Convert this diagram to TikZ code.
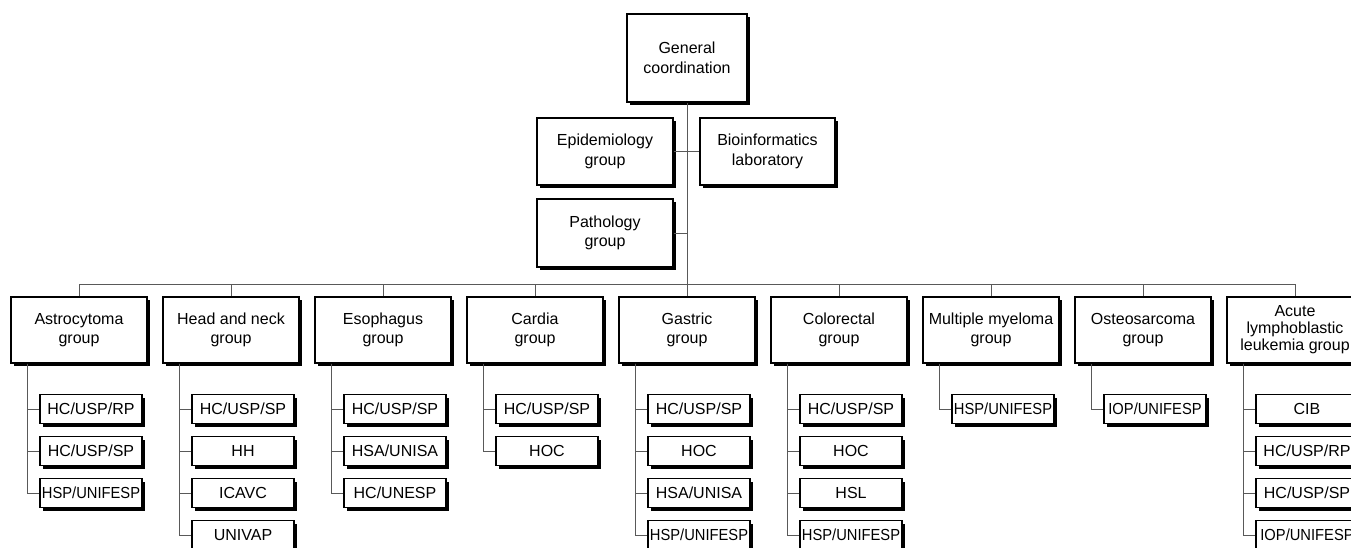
\documentclass[tikz,border=0pt]{standalone}
\usepackage{fontspec}
\setmainfont{Liberation Sans}
\newfontfamily\narrowsans[FakeStretch=0.92]{Liberation Sans}
\usetikzlibrary{shadows}
\tikzset{
    unit/.style={draw, line width=1.4pt, fill=white, inner sep=0pt, align=center,
        font=\fontsize{16}{19.5}\selectfont,
        drop shadow={shadow xshift=3pt, shadow yshift=-3pt, fill=black, opacity=1}},
    groupbox/.style={unit, minimum width=136pt, minimum height=66pt},
    sitebox/.style={unit, minimum width=102pt, minimum height=29pt},
    link/.style={draw=black!65, line width=0.9pt}
}
\newcommand{\sitelist}[3]{
    \foreach \s [count=\k] in {#3} {
        \node[sitebox] (#1-\k) at ({91+152*#2},{367+42*\k}) {\s};
        \draw[link] ([xshift=-52pt]#1.south) |- (#1-\k.west);
    }
}
\begin{document}
\begin{tikzpicture}[x=1pt, y=-1pt]
    \useasboundingbox (0,0) rectangle (1351,548);
    % coordination and support groups
    \node[unit, minimum width=120pt, minimum height=88pt] (coord) at (687,58) {General\\coordination};
    \node[unit, minimum width=136pt, minimum height=67pt] (epi) at (605,151.5) {Epidemiology\\group};
    \node[unit, minimum width=135pt, minimum height=67pt] (bio) at (767.5,151.5) {Bioinformatics\\laboratory};
    \node[unit, minimum width=136pt, minimum height=68pt] (patho) at (605,233) {Pathology\\group};
    \coordinate (bus) at (687,284);
    \draw[link] (coord.south) -- (bus);
    \draw[link] (epi.east) -- (bio.west);
    \draw[link] (patho.east) -- (patho.east -| bus);
    % tumour groups
    \foreach \name/\txt [count=\i from 0] in {astro/Astrocytoma\\group, head/Head and neck\\group,
        eso/Esophagus\\group, cardia/Cardia\\group, gastric/Gastric\\group, colo/Colorectal\\group,
        myeloma/Multiple myeloma\\group, osteo/Osteosarcoma\\group} {
        \node[groupbox] (\name) at ({79+152*\i},330) {\txt};
        \draw[link] (\name.north) -- (\name.north |- bus);
    }
    \node[groupbox, font=\fontsize{16}{17}\selectfont] (all) at (1295,330) {Acute\\lymphoblastic\\leukemia group};
    \draw[link] (all.north) -- (all.north |- bus);
    \draw[link] (astro.north |- bus) -- (all.north |- bus);
    % participating sites
    \sitelist{astro}{0}{HC/USP/RP, HC/USP/SP, {\narrowsans HSP/UNIFESP}}
    \sitelist{head}{1}{HC/USP/SP, HH, ICAVC, UNIVAP}
    \sitelist{eso}{2}{HC/USP/SP, HSA/UNISA, HC/UNESP}
    \sitelist{cardia}{3}{HC/USP/SP, HOC}
    \sitelist{gastric}{4}{HC/USP/SP, HOC, HSA/UNISA, {\narrowsans HSP/UNIFESP}}
    \sitelist{colo}{5}{HC/USP/SP, HOC, HSL, {\narrowsans HSP/UNIFESP}}
    \sitelist{myeloma}{6}{{\narrowsans HSP/UNIFESP}}
    \sitelist{osteo}{7}{{\narrowsans IOP/UNIFESP}}
    \sitelist{all}{8}{CIB, HC/USP/RP, HC/USP/SP, {\narrowsans IOP/UNIFESP}}
\end{tikzpicture}
\end{document}
